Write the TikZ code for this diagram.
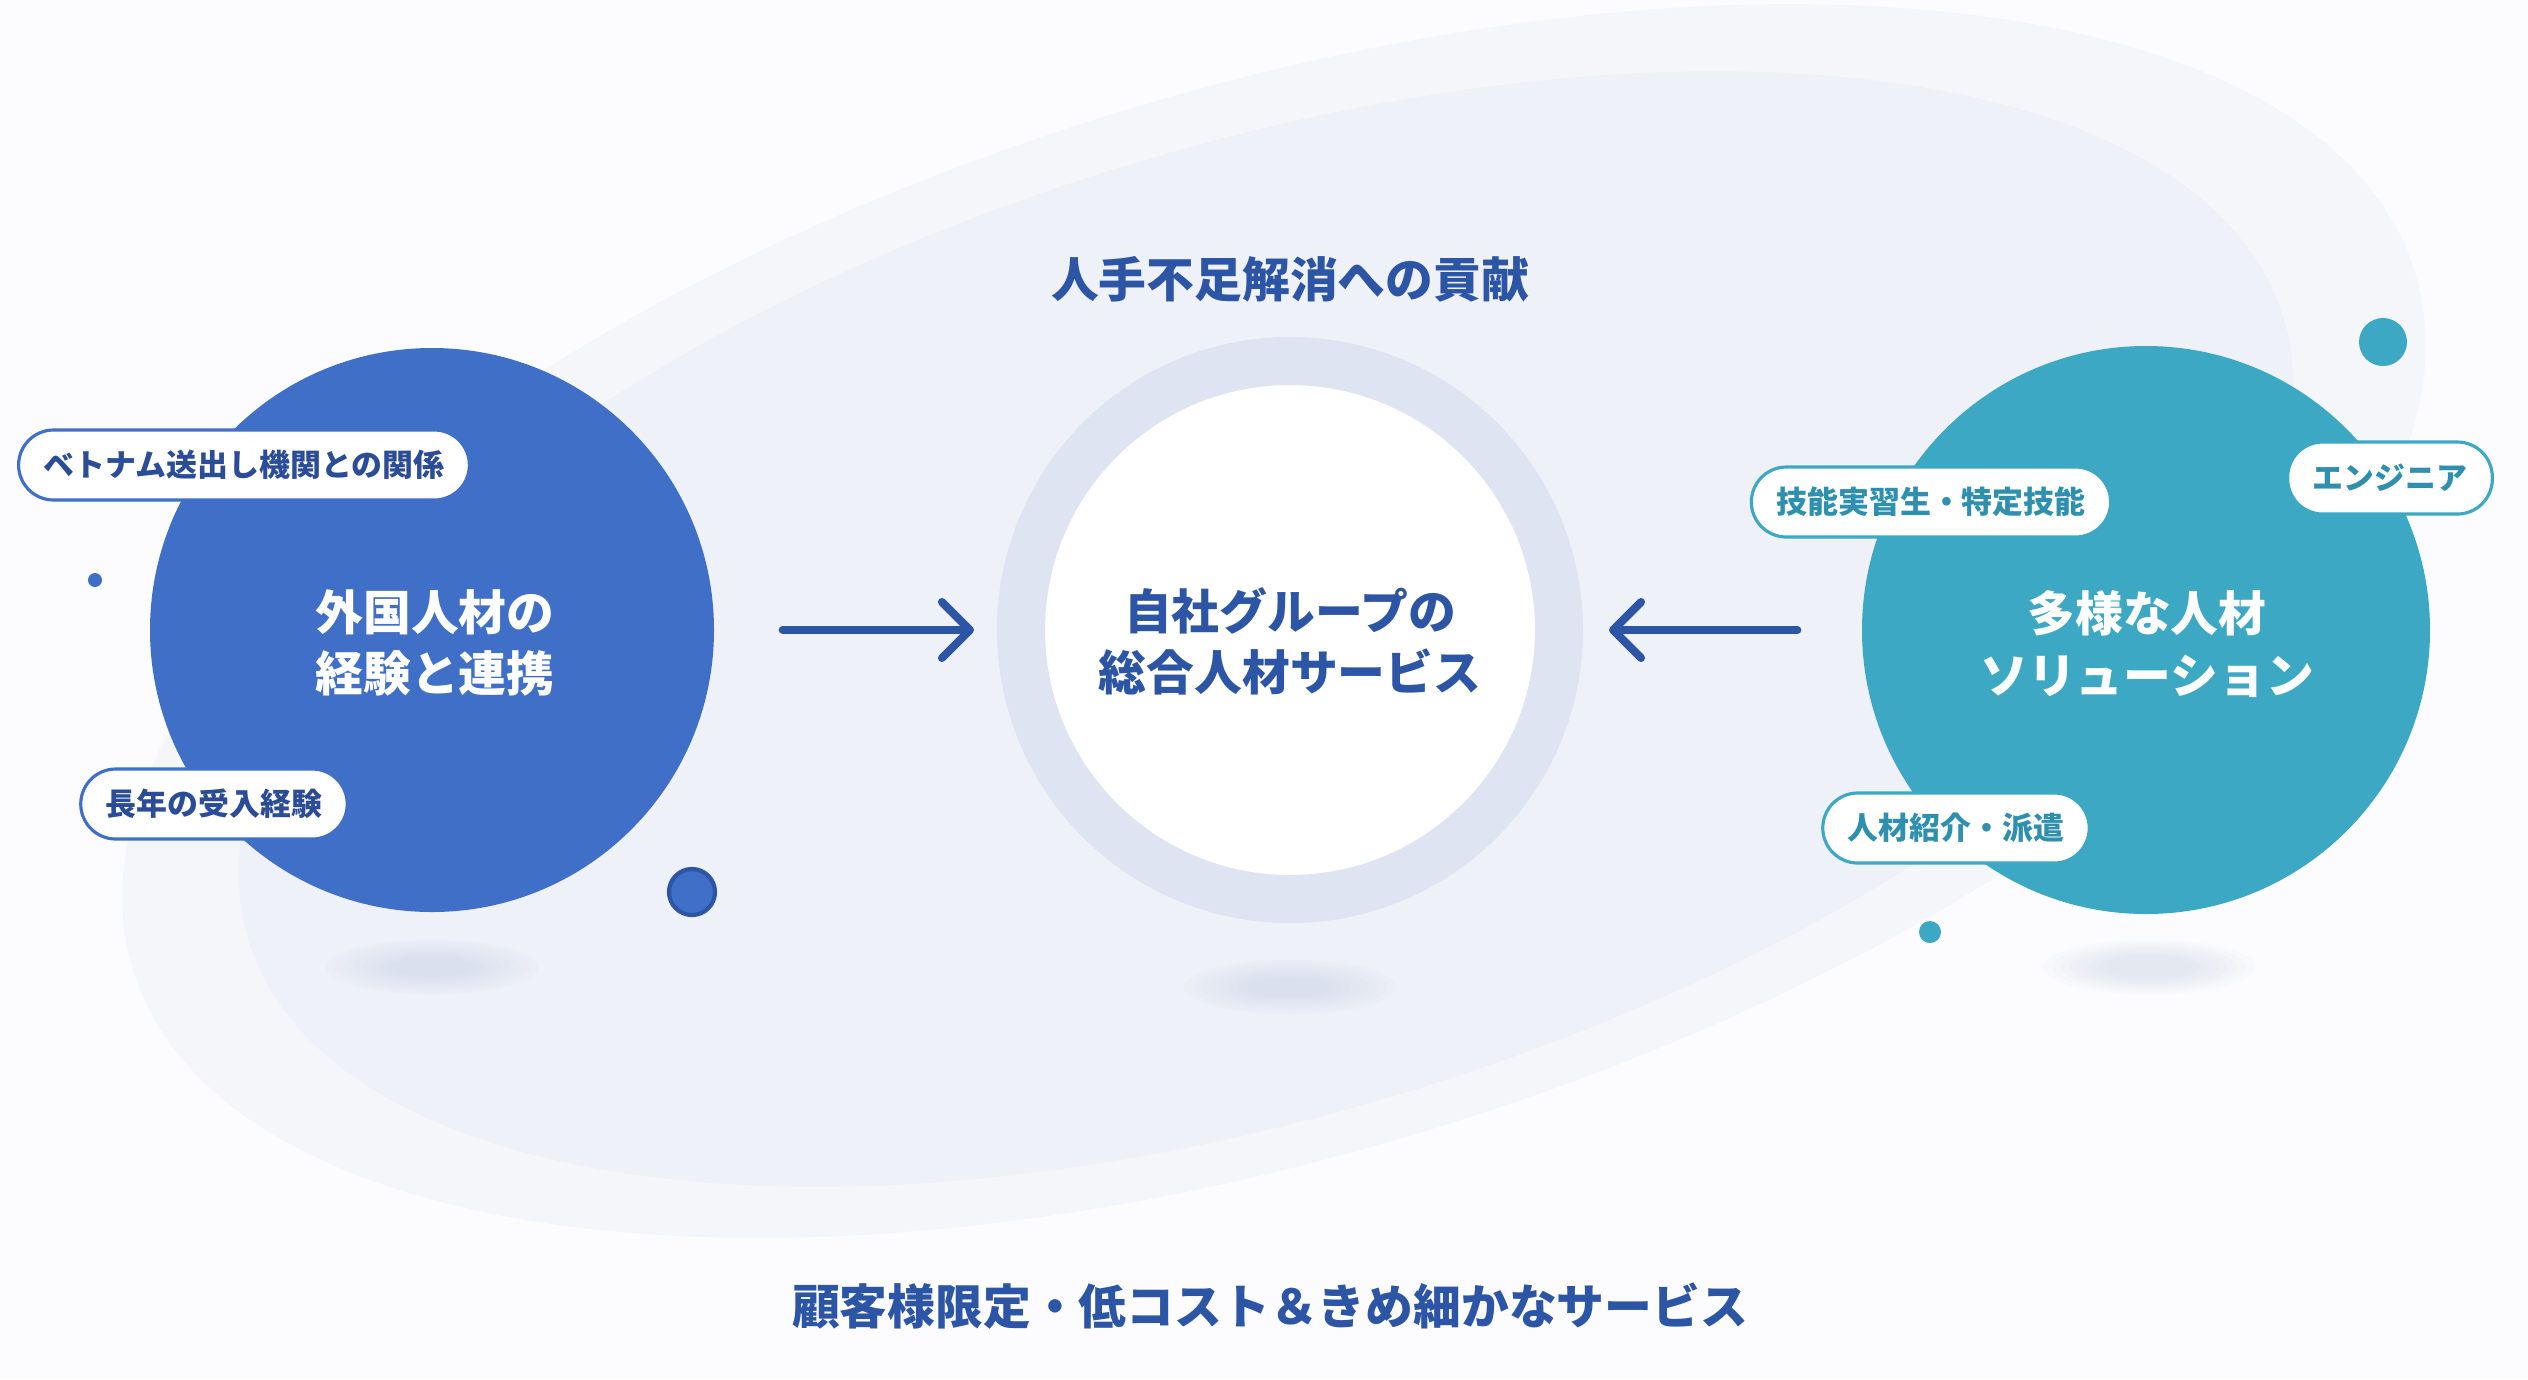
\documentclass[tikz,border=0pt]{standalone}
\usepackage{fontspec}
\setmainfont{Noto Sans CJK JP}
\usetikzlibrary{arrows.meta}
\definecolor{bgc}{HTML}{FCFCFE}
\definecolor{haloc}{HTML}{F5F6FA}
\definecolor{blobc}{HTML}{EFF1F8}
\definecolor{blueC}{HTML}{3F6FC6}
\definecolor{tealC}{HTML}{3DA8C4}
\definecolor{ringC}{HTML}{DEE4F2}
\definecolor{navy}{HTML}{2D55A5}
\definecolor{navyT}{HTML}{2B4C96}
\definecolor{tealT}{HTML}{2E8FAE}
\definecolor{shadowC}{HTML}{C3CEE4}
\tikzset{
  bigtxt/.style={font=\fontsize{13.6}{17.4}\selectfont\bfseries, align=center, inner sep=0pt},
  pill/.style={draw=#1, line width=0.9pt, fill=white, rounded corners=0.35cm,
     minimum height=0.70cm, inner xsep=0.25cm, inner ysep=0pt,
     font=\fontsize{8.8}{10}\selectfont\bfseries},
  arr/.style={draw=navy, line width=2.3pt, line cap=round,
     -{Straight Barb[length=0.28cm, width=0.56cm, line width=2.3pt, round]}},
  dot/.style={circle, inner sep=0pt, fill=#1}
}
\begin{document}
\begin{tikzpicture}
\useasboundingbox (0,0) rectangle (25.28,-13.79);
\fill[bgc] (0,0) rectangle (25.28,-13.79);
% background blobs
\fill[haloc, rotate around={17:(12.74,-6.21)}] (12.74,-6.21) ellipse [x radius=11.93, y radius=5.32];
\fill[blobc, rotate around={17:(12.66,-6.29)}] (12.66,-6.29) ellipse [x radius=10.64, y radius=4.84];
% shadows
\foreach \cx/\cy in {4.32/-9.67, 12.90/-9.87, 21.49/-9.67}{
  \foreach \k in {1,...,8}{
    \fill[shadowC, opacity=0.06] (\cx,\cy) ellipse [x radius={1.15-0.09*\k}, y radius={0.30-0.025*\k}];
  }
}
% main circles
\node[circle, fill=blueC, minimum size=5.64cm, inner sep=0pt] (L) at (4.32,-6.30) {};
\node[circle, fill=white, draw=ringC, line width=0.48cm, minimum size=5.38cm, inner sep=0pt] (C) at (12.90,-6.30) {};
\node[circle, fill=tealC, minimum size=5.68cm, inner sep=0pt] (R) at (21.46,-6.30) {};
% circle texts
\node[bigtxt, text=white] (Lt) at (4.35,-6.43) {外国人材の\\経験と連携};
\node[bigtxt, text=navy] (Ct) at (12.90,-6.41) {自社グループの\\総合人材サービス};
\node[bigtxt, text=white] (Rt) at (21.47,-6.44) {多様な人材\\ソリューション};
% titles
\node[bigtxt, text=navy] (top) at (12.90,-2.79) {人手不足解消への貢献};
\node[bigtxt, text=navy] (bottom) at (12.70,-13.06) {顧客様限定・低コスト＆きめ細かなサービス};
% arrows
\draw[arr, shorten <=0.68cm, shorten >=0.23cm] (L) -- (C);
\draw[arr, shorten <=0.64cm, shorten >=0.26cm] (R) -- (C);
% pills
\node[pill=blueC, text=navyT] (p1) at (2.44,-4.65) {ベトナム送出し機関との関係};
\node[pill=blueC, text=navyT] (p2) at (2.14,-8.04) {長年の受入経験};
\node[pill=tealC, text=tealT] (p3) at (19.31,-5.02) {技能実習生・特定技能};
\node[pill=tealC, text=tealT, minimum height=0.72cm] (p4) at (23.90,-4.78) {エンジニア};
\node[pill=tealC, text=tealT] (p5) at (19.56,-8.28) {人材紹介・派遣};
% dots
\node[dot=blueC, minimum size=0.14cm] (d1) at (0.95,-5.80) {};
\node[dot=blueC, draw=navy, line width=1.2pt, minimum size=0.46cm] (d2) at (6.92,-8.92) {};
\node[dot=tealC, minimum size=0.48cm] (d3) at (23.83,-3.42) {};
\node[dot=tealC, minimum size=0.22cm] (d4) at (19.30,-9.32) {};
\end{tikzpicture}
\end{document}
